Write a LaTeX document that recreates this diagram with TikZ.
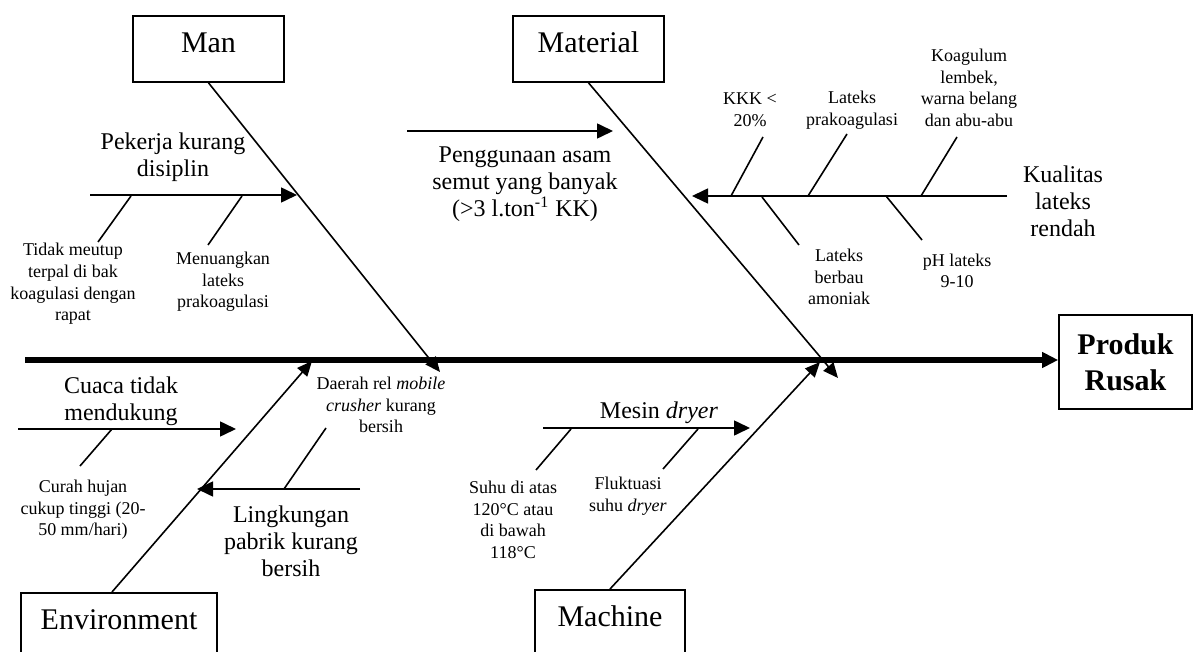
\documentclass[tikz,border=0pt]{standalone}
\usepackage{fontspec}
\setmainfont{Liberation Serif}
\usetikzlibrary{arrows.meta}
\usetikzlibrary{positioning}

\tikzset{
  catbox/.style={draw, line width=0.8pt, inner sep=0pt, minimum height=33pt,
    font=\fontsize{15}{18}\selectfont, text height=10pt, text depth=6pt},
  effbox/.style={draw, line width=0.8pt, align=center, minimum width=66.5pt,
    minimum height=47pt, font=\fontsize{15}{18}\selectfont\bfseries},
  midtxt/.style={align=center, inner sep=0pt, font=\fontsize{12}{13.5}\selectfont},
  smalltxt/.style={align=center, inner sep=0pt, font=\fontsize{9}{10.8}\selectfont},
  spine/.style={line width=3pt, -{Triangle[length=8pt,width=7.5pt]}},
  bone/.style={line width=0.8pt, -{Triangle[length=7.5pt,width=6.5pt]}},
  causearrow/.style={line width=0.8pt, -{Triangle[length=8pt,width=7.5pt]}},
  twig/.style={line width=0.8pt},
}

\begin{document}
\begin{tikzpicture}[x=0.5pt,y=-0.5pt]
    \clip (0,0) rectangle (1194,652);

    % categories and effect
    \node[catbox, minimum width=75.5pt] (man) at (208.5,49) {Man};
    \node[catbox, minimum width=75.5pt] (mat) at (588.5,49) {Material};
    \node[catbox, minimum width=98pt, anchor=north] (env) at (119,592) {Environment};
    \node[catbox, minimum width=75pt, anchor=north] (mach) at (610,589) {Machine};
    \node[effbox] (prod) at (1125.5,362) {Produk\\Rusak};

    \coordinate (spineL) at (25,360);
    \draw[spine] (spineL) -- (spineL -| prod.west);

    \coordinate (manE) at (440,372);
    \coordinate (matE) at (838,378);
    \coordinate (envE) at (312,361);
    \coordinate (machE) at (820,362);
    \draw[bone] (man.south) -- (manE);
    \draw[bone] (mat.south) -- (matE);
    \draw[bone] ([xshift=-3.5pt]env.north) -- (envE);
    \draw[bone] (mach.north) -- (machE);

    % man
    \coordinate (pkL) at (90,195);
    \coordinate (pkR) at (297,195);
    \draw[causearrow] (pkL) -- (pkR);
    \node[midtxt] (pk) at (173,157) {Pekerja kurang\\disiplin};
    \coordinate (tdA) at (131,196);
    \coordinate (tdB) at (98,242);
    \draw[twig] (tdA) -- (tdB);
    \node[smalltxt] (td) at (73,284) {Tidak meutup\\terpal di bak\\koagulasi dengan\\rapat};
    \coordinate (mnA) at (242,196);
    \coordinate (mnB) at (208,245);
    \draw[twig] (mnA) -- (mnB);
    \node[smalltxt] (mn) at (223,282) {Menuangkan\\lateks\\prakoagulasi};

    % material
    \coordinate (asL) at (407,131);
    \coordinate (asR) at (613,131);
    \draw[causearrow] (asL) -- (asR);
    \node[midtxt] (as) at (525,184) {Penggunaan asam\\semut yang banyak\\(>3 l.ton\textsuperscript{-1} KK)};
    \coordinate (kuR) at (1007,196);
    \coordinate (kuL) at (692,196);
    \draw[causearrow] (kuR) -- (kuL);
    \node[midtxt] (ku) at (1063,201) {Kualitas\\lateks\\rendah};
    \coordinate (kkA) at (731,196);
    \coordinate (kkB) at (763,137);
    \draw[twig] (kkA) -- (kkB);
    \node[smalltxt] (kk) at (750,110) {KKK <\\20\%};
    \coordinate (lpA) at (808,196);
    \coordinate (lpB) at (847,134);
    \draw[twig] (lpA) -- (lpB);
    \node[smalltxt] (lp) at (852,110) {Lateks\\prakoagulasi};
    \coordinate (kgA) at (921,196);
    \coordinate (kgB) at (957,137);
    \draw[twig] (kgA) -- (kgB);
    \node[smalltxt] (kg) at (969,88) {Koagulum\\lembek,\\warna belang\\dan abu-abu};
    \coordinate (lbA) at (762,197);
    \coordinate (lbB) at (799,245);
    \draw[twig] (lbA) -- (lbB);
    \node[smalltxt] (lb) at (839,277) {Lateks\\berbau\\amoniak};
    \coordinate (phA) at (886,196);
    \coordinate (phB) at (922,240);
    \draw[twig] (phA) -- (phB);
    \node[smalltxt] (ph) at (957,271) {pH lateks\\9-10};

    % environment
    \coordinate (cuL) at (18,429);
    \coordinate (cuR) at (236,429);
    \draw[causearrow] (cuL) -- (cuR);
    \node[midtxt] (cu) at (121,401) {Cuaca tidak\\mendukung};
    \coordinate (chA) at (112,429);
    \coordinate (chB) at (80,466);
    \draw[twig] (chA) -- (chB);
    \node[smalltxt] (ch) at (83,510) {Curah hujan\\cukup tinggi (20-\\50 mm/hari)};
    \coordinate (lkR) at (360,489);
    \coordinate (lkL) at (197,489);
    \draw[causearrow] (lkR) -- (lkL);
    \node[midtxt] (lk) at (291,541) {Lingkungan\\pabrik kurang\\bersih};
    \coordinate (drA) at (284,489);
    \coordinate (drB) at (326,428);
    \draw[twig] (drA) -- (drB);
    \node[smalltxt] (dr) at (381,405) {Daerah rel \textit{mobile}\\\textit{crusher} kurang\\bersih};

    % machine
    \coordinate (msL) at (543,428);
    \coordinate (msR) at (750,428);
    \draw[causearrow] (msL) -- (msR);
    \node[midtxt] (ms) at (659,413) {Mesin \textit{dryer}};
    \coordinate (shA) at (571,429);
    \coordinate (shB) at (536,470);
    \draw[twig] (shA) -- (shB);
    \node[smalltxt] (sh) at (513,520) {Suhu di atas\\120°C atau\\di bawah\\118°C};
    \coordinate (flA) at (698,429);
    \coordinate (flB) at (663,469);
    \draw[twig] (flA) -- (flB);
    \node[smalltxt] (fl) at (628,496) {Fluktuasi\\suhu \textit{dryer}};
\end{tikzpicture}
\end{document}
